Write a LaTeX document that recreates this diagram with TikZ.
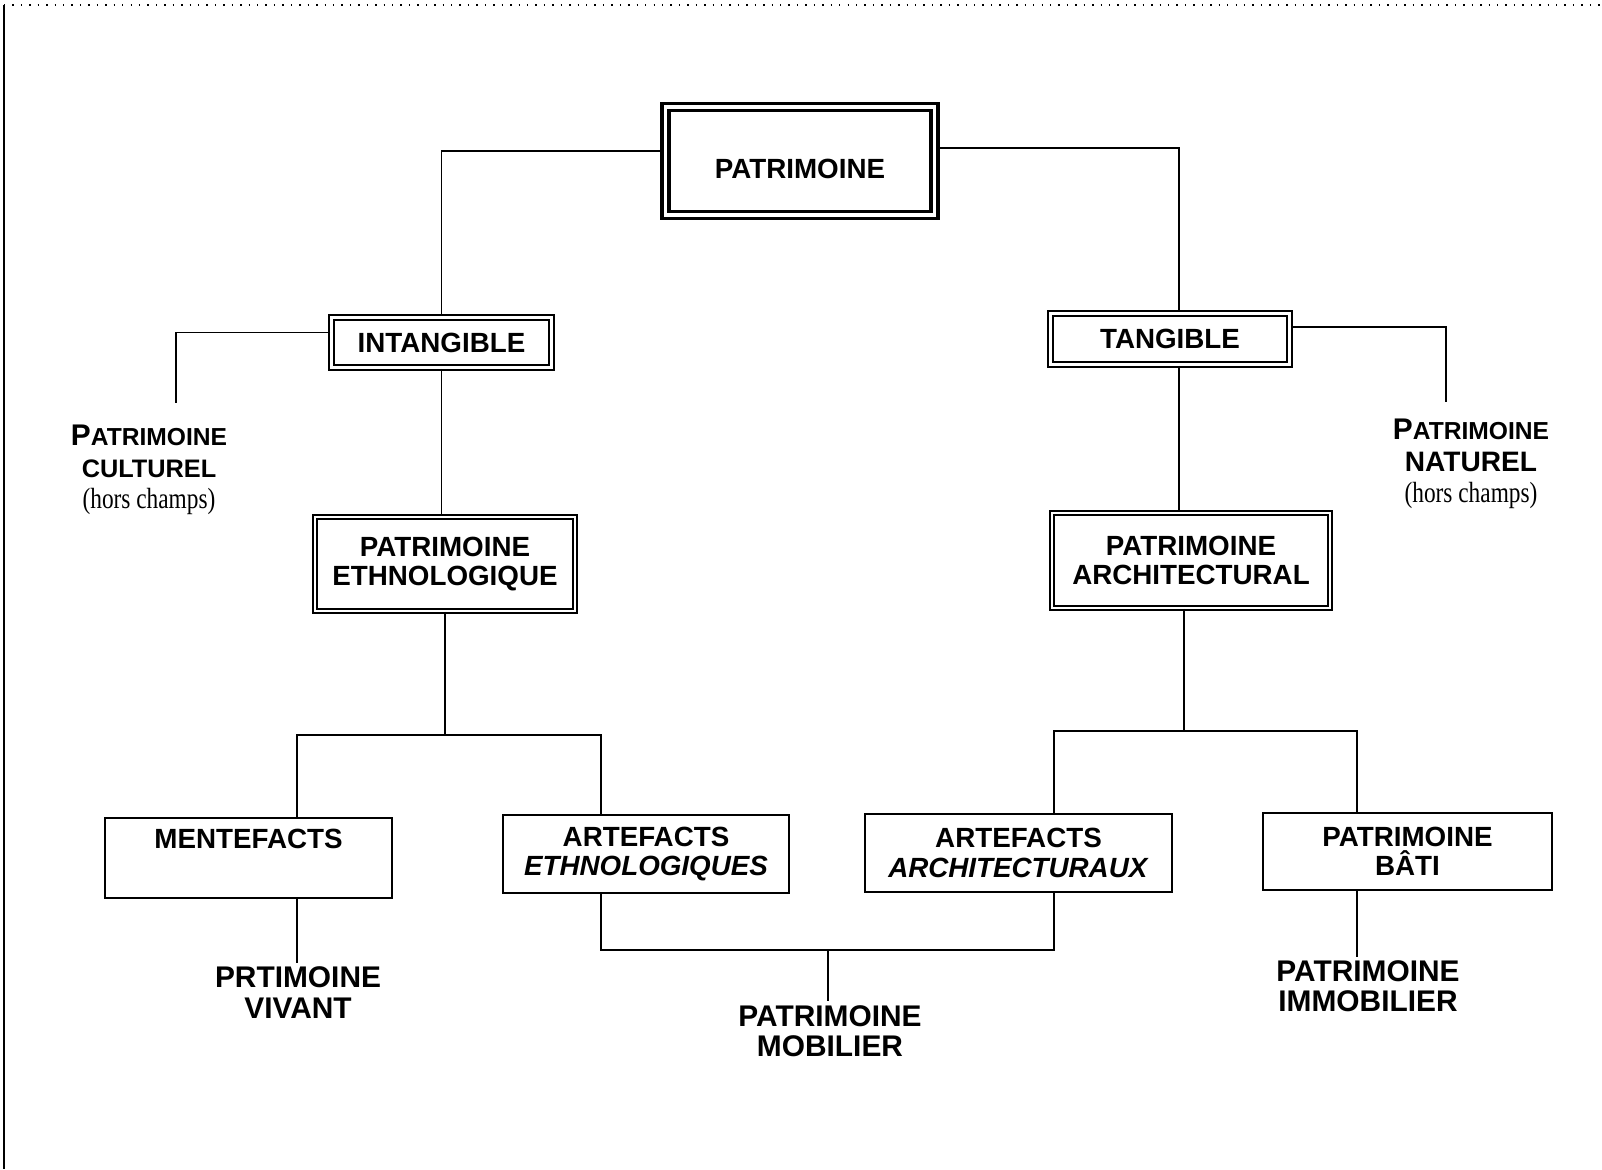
\documentclass[tikz,border=0pt]{standalone}
\usepackage{fontspec}
\setmainfont{Liberation Sans}
\newfontfamily\condserif[FakeStretch=0.8]{Liberation Serif}

\begin{document}
\begin{tikzpicture}[x=1cm, y=-1cm,
            every node/.style={font=\bfseries\fontsize{7.9}{8.4}\selectfont, align=center, inner sep=1pt},
            rootbox/.style={rectangle, draw, line width=0.9pt, double, double distance=1.1pt, minimum width=2.69cm, minimum height=1.08cm},
            thickbox/.style={rectangle, draw, line width=0.8pt, double, double distance=0.6pt},
            dblbox/.style={rectangle, draw, line width=0.45pt, double, double distance=0.8pt},
            leafbox/.style={rectangle, draw, line width=0.7pt, minimum height=0.78cm},
            lbl/.style={font=\bfseries\fontsize{8.5}{8.6}\selectfont},
            side/.style={font=\bfseries\fontsize{7.2}{8.9}\selectfont},
            link/.style={line width=0.5pt}
        ]
        \useasboundingbox (0,0) rectangle (16.02,11.69);

        % cadre du scan
        \draw[line width=0.4pt] (0.04,0.05) -- (0.04,11.69);
        \draw[line width=0.4pt, dotted] (0.04,0.05) -- (16.02,0.05);

        \node[rootbox] (patri) at (8.00,1.61) {\rule{0pt}{3.6mm}PATRIMOINE};
        \node[thickbox, minimum width=2.20cm, minimum height=0.50cm] (intang) at (4.415,3.425) {INTANGIBLE};
        \node[thickbox, minimum width=2.39cm, minimum height=0.51cm] (tang) at (11.70,3.39) {TANGIBLE};
        \node[dblbox, minimum width=2.60cm, minimum height=0.94cm] (ethno) at (4.45,5.64) {PATRIMOINE\\ETHNOLOGIQUE};
        \node[dblbox, minimum width=2.78cm, minimum height=0.95cm] (archi) at (11.91,5.605) {PATRIMOINE\\ARCHITECTURAL};
        \node[leafbox, minimum width=2.87cm, minimum height=0.80cm] (mente) at (2.485,8.58) {MENTEFACTS\\\strut};
        \node[leafbox, minimum width=2.86cm] (artethno) at (6.46,8.54) {ARTEFACTS\\\textit{ETHNOLOGIQUES}};
        \node[leafbox, minimum width=3.07cm] (artarchi) at (10.185,8.53) {ARTEFACTS\\\textit{ARCHITECTURAUX}};
        \node[leafbox, minimum width=2.89cm, minimum height=0.77cm] (bati) at (14.075,8.515) {PATRIMOINE\\BÂTI};

        \node[side] (cult) at (1.49,4.70) {{\fontsize{8.5}{8.9}\selectfont P}{\fontsize{7}{8.9}\selectfont ATRIMOINE}\\CULTUREL\\{\condserif\mdseries\fontsize{8.3}{8.9}\selectfont (hors champs)}};
        \node[side, font=\bfseries\fontsize{8}{8.9}\selectfont] (nat) at (14.71,4.64) {{\fontsize{8.5}{8.9}\selectfont P}{\fontsize{7}{8.9}\selectfont ATRIMOINE}\\NATUREL\\{\condserif\mdseries\fontsize{8.3}{8.9}\selectfont (hors champs)}};
        \node[lbl] (vivant) at (2.98,9.925) {PRTIMOINE\\VIVANT};
        \node[lbl] (mobil) at (8.30,10.31) {PATRIMOINE\\MOBILIER};
        \node[lbl] (immob) at (13.68,9.865) {PATRIMOINE\\IMMOBILIER};

        \coordinate (c1) at (2.97,7.35);
        \coordinate (c2) at (6.01,7.35);
        \coordinate (c3) at (10.54,7.31);
        \coordinate (c4) at (13.57,7.31);
        \coordinate (m) at (8.28,9.50);

        % Intangible / tangible
        \draw[link] ([yshift=1mm]patri.west) -| (intang.north);
        \draw[link] ([yshift=1.3mm]patri.east) -| ([xshift=0.9mm]tang.north);
        \draw[link] ([yshift=1mm]intang.west) -| ([xshift=2.7mm, yshift=1.8mm]cult.north);
        \draw[link] ([yshift=1.2mm]tang.east) -| ([xshift=-2.5mm, yshift=1.3mm]nat.north);
        \draw[link] (intang.south) -- (intang.south |- ethno.north);
        \draw[link] ([xshift=0.9mm]tang.south) -- ([xshift=0.9mm]tang.south |- archi.north);

        % Artefacts et mentefacts
        \draw[link] (ethno.south) -- (ethno.south |- c1);
        \draw[link] (mente.north -| c1) -- (c1) -- (c2) -- (artethno.north -| c2);
        \draw[link] ([xshift=-0.7mm]archi.south) -- ([xshift=-0.7mm]archi.south |- c3);
        \draw[link] (artarchi.north -| c3) -- (c3) -- (c4) -- (bati.north -| c4);

        % Libelles du bas
        \draw[link] (mente.south -| c1) -- (c1 |- vivant.north);
        \draw[link] (artethno.south -| c2) |- (m) -| (artarchi.south -| c3);
        \draw[link] (m) -- (m |- mobil.north);
        \draw[link] (bati.south -| c4) -- (c4 |- immob.north);
        \end{tikzpicture}
\end{document}
